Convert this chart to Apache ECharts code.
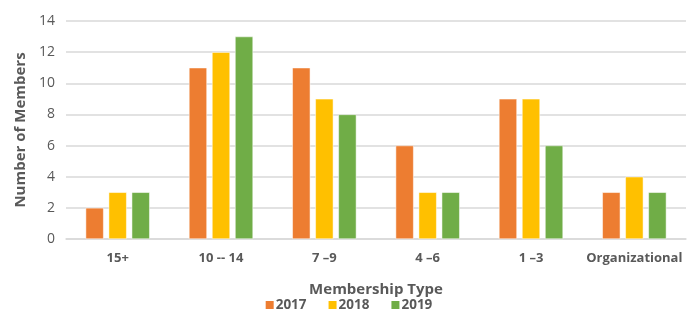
<!DOCTYPE html>
<html>
<head>
<meta charset="utf-8">
<script src="https://cdn.jsdelivr.net/npm/echarts@6/dist/echarts.min.js"></script>
<style>
  html, body { margin: 0; padding: 0; background: #fff; }
  #chart { width: 696px; height: 318px; }
</style>
</head>
<body>
<div id="chart"></div>
<script>
const categories = ['15+', '10 -- 14', '7 \u20139', '4 \u20136', '1 \u20133', 'Organizational']
const years = ['2017', '2018', '2019']
const values2017 = [2, 11, 11, 6, 9, 3]
const values2018 = [3, 12, 9, 3, 9, 4]
const values2019 = [3, 13, 8, 3, 6, 3]
const colors = ['#ED7D31', '#FFC000', '#70AD47']

const textColor = '#595959'
const font = '"Open Sans", sans-serif'

const chart = echarts.init(document.getElementById('chart'))
chart.setOption({
  animation: false,
  color: colors,
  textStyle: { fontFamily: font },
  grid: { left: 66, right: 10, top: 21, bottom: 79 },
  legend: {
    bottom: 1,
    left: 'center',
    itemWidth: 10,
    itemHeight: 10,
    itemGap: 20,
    icon: 'rect',
    textStyle: { color: textColor, fontSize: 13.5, fontWeight: 'bold', fontFamily: font, padding: [0, 0, 0, -4] },
    data: years
  },
  xAxis: {
    type: 'category',
    data: categories,
    name: 'Membership Type',
    nameLocation: 'middle',
    nameGap: 43,
    nameTextStyle: { color: textColor, fontSize: 15, fontWeight: 'bold', fontFamily: font },
    axisLine: { lineStyle: { color: '#d9d9d9', width: 1.5 } },
    axisTick: { show: false },
    axisLabel: { interval: 0, color: textColor, fontSize: 13, fontWeight: 'bold', margin: 13, fontFamily: font }
  },
  yAxis: {
    type: 'value',
    min: 0,
    max: 14,
    interval: 2,
    name: 'Number of Members',
    nameLocation: 'middle',
    nameGap: 37,
    nameTextStyle: { color: textColor, fontSize: 15, fontWeight: 'bold', fontFamily: font },
    axisLine: { show: false },
    axisTick: { show: false },
    axisLabel: { color: textColor, fontSize: 14, margin: 11, fontFamily: font },
    splitLine: { lineStyle: { color: '#d9d9d9', width: 1.5 } }
  },
  series: [
    { name: years[0], type: 'bar', data: values2017, barWidth: 18, barGap: '28%',
      itemStyle: { borderColor: '#fff', borderWidth: 0.5 } },
    { name: years[1], type: 'bar', data: values2018, barWidth: 18, barGap: '28%',
      itemStyle: { borderColor: '#fff', borderWidth: 0.5 } },
    { name: years[2], type: 'bar', data: values2019, barWidth: 18, barGap: '28%',
      itemStyle: { borderColor: '#fff', borderWidth: 0.5 } }
  ]
})
</script>
</body>
</html>
